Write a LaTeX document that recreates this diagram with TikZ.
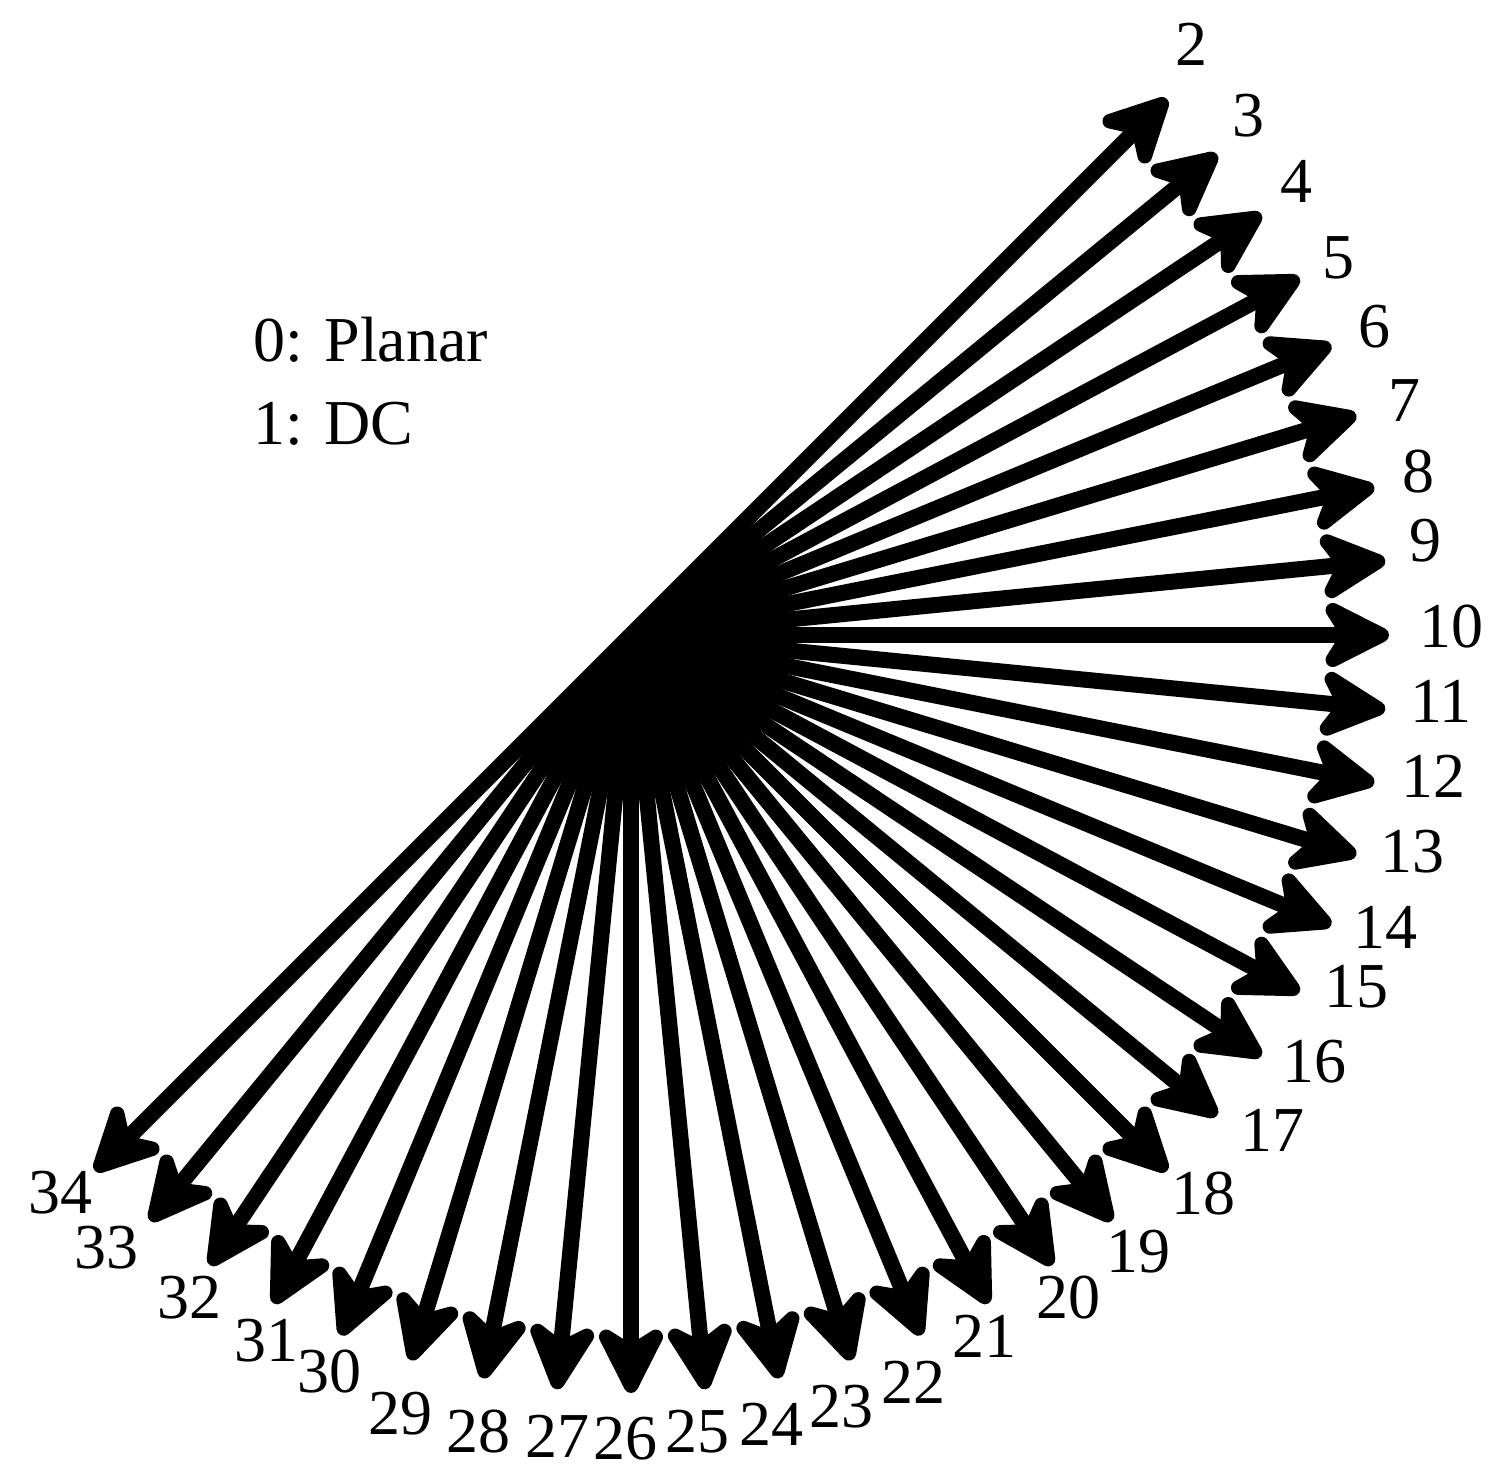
\documentclass[tikz,border=0pt]{standalone}
\usepackage{fontspec}
\setmainfont{Liberation Serif}
\usetikzlibrary{arrows.meta,calc}
\begin{document}
\begin{tikzpicture}[x=0.5pt,y=-0.5pt,
  arr/.style={line width=8pt, -{Stealth[length=42pt,width=42pt,inset=13pt,round]}},
  lbl/.style={inner sep=0pt, font=\fontsize{32}{38}\selectfont}]
\useasboundingbox (0,0) rectangle (1505,1481);
\coordinate (c) at (631,635);
\foreach \i in {2,...,34} {
  \pgfmathsetmacro\ang{-45+(\i-2)*5.625}
  \coordinate (t\i) at ($(c)+(\ang:758)$);
  \draw[arr] (c) -- (t\i);
}
\foreach \i/\x/\y in {2/1191/44, 3/1248/116, 4/1296/181, 5/1338/258, 6/1374/327,
  7/1404/401, 8/1418/472, 9/1425/541, 10/1451/627, 11/1441/701, 12/1433/776,
  13/1412/852, 14/1385/927, 15/1356/987, 16/1314/1062, 17/1272/1130,
  18/1203/1194, 19/1138/1252, 20/1068/1298, 21/984/1336, 22/913/1382,
  23/841/1407, 24/771/1424, 25/697/1432, 26/625/1439, 27/557/1436,
  28/478/1432, 29/400/1414, 30/329/1372, 31/266/1341, 32/189/1298,
  33/106/1248, 34/60/1193} {
  \node[lbl] (l\i) at (\x,\y) {\i};
}
\node[lbl, anchor=base west] (legA) at (253,362) {0: Planar};
\node[lbl, anchor=base west] (legB) at (253,445) {1: DC};
\end{tikzpicture}
\end{document}
